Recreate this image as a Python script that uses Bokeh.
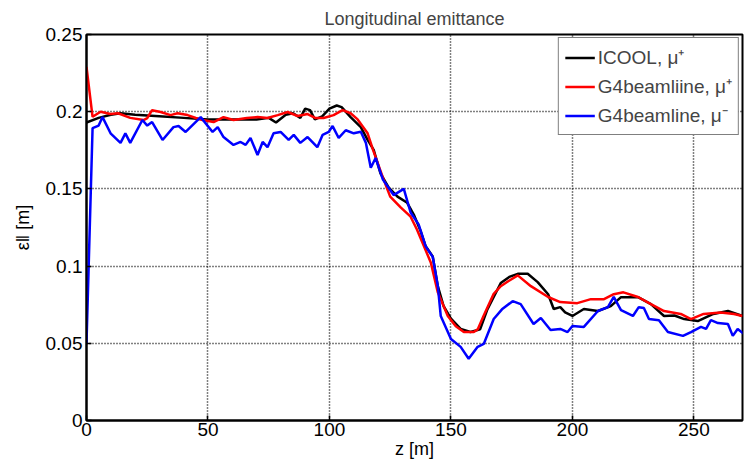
from bokeh.plotting import figure
from bokeh.models import FixedTicker, CustomJSTickFormatter, Range1d, Legend, LegendItem
from bokeh.embed import file_html
from bokeh.resources import INLINE

# ---- data ----
icool_z = [0, 5, 10, 14, 20,
           30, 40, 50, 60, 70,
           75, 78, 82, 85, 88,
           90, 92, 94, 97, 100,
           103, 105, 108.7, 112.9, 115.7,
           118.2, 121, 124.4, 128, 132,
           134.7, 137.6, 139.6, 142.5, 144.6,
           147, 150, 154, 158, 162,
           165, 167.6, 170.5, 174, 177.5,
           181.6, 185.7, 190, 192.3, 195,
           197, 200, 204.7, 210.5, 215.8,
           220, 227, 232.3, 237.7, 242,
           246, 251.6, 258, 264, 270]
icool_e = [0.193, 0.196, 0.198, 0.199, 0.198,
           0.197, 0.196, 0.195, 0.195, 0.195,
           0.196, 0.193, 0.198, 0.199, 0.196,
           0.202, 0.201, 0.195, 0.197, 0.202,
           0.204, 0.203, 0.1965, 0.190, 0.1817,
           0.1753, 0.160, 0.1508, 0.145, 0.141,
           0.1334, 0.1224, 0.1128, 0.1063, 0.087,
           0.074, 0.066, 0.0593, 0.0573, 0.059,
           0.072, 0.080, 0.089, 0.093, 0.095,
           0.095, 0.0896, 0.0818, 0.0722, 0.0734,
           0.070, 0.0677, 0.0722, 0.0709, 0.0741,
           0.0799, 0.0799, 0.0754, 0.0677, 0.068,
           0.0657, 0.0644, 0.069, 0.0709, 0.0677]

g4p_z = [0, 2.5, 5.8, 9.9, 13,
         18, 23.5, 25, 27, 30.5,
         34.6, 37.5, 41.6, 45, 47.8,
         52.3, 56.4, 60.5, 66, 70.4,
         74.5, 78.7, 82.8, 86.9, 91,
         94.3, 97.6, 101.7, 105.4, 108.7,
         111.6, 115.7, 118, 122.3, 125,
         129.3, 133.4, 136, 138.9, 141.7,
         144.6, 148.7, 152, 155.3, 159.4,
         161, 163.5, 167.6, 170.5, 173.4,
         177.5, 182.9, 190, 195, 202,
         207.6, 213, 217, 221, 227,
         232.3, 237.7, 244.6, 248.8, 254,
         261, 266.5, 270]
g4p_e = [0.229, 0.1967, 0.200, 0.1985, 0.199,
         0.196, 0.1946, 0.1959, 0.201, 0.1998,
         0.1978, 0.199, 0.1978, 0.1959, 0.1946,
         0.1933, 0.1965, 0.1946, 0.1959, 0.1965,
         0.1959, 0.1978, 0.1998, 0.1972, 0.1985,
         0.1959, 0.1959, 0.1978, 0.201, 0.199,
         0.1950, 0.186, 0.175, 0.156, 0.145,
         0.138, 0.132, 0.1237, 0.1128, 0.1024,
         0.083, 0.0677, 0.061, 0.0573, 0.0573,
         0.059, 0.068, 0.082, 0.087, 0.090,
         0.094, 0.087, 0.080, 0.0767, 0.076,
         0.0786, 0.0786, 0.0818, 0.083, 0.080,
         0.0754, 0.0709, 0.069, 0.0657, 0.069,
         0.070, 0.069, 0.0677]

g4m_z = [0, 2.5, 5, 6.6, 9.9,
         14, 16, 18, 23, 25,
         27, 31.3, 35.8, 37.9, 40.8,
         47, 51.9, 54, 56.4, 60.5,
         63.4, 65.5, 67.5, 70.4, 72.5,
         74.5, 77, 79.9, 83.2, 85.3,
         88, 91, 95, 97.2, 99.7,
         101.3, 103.8, 106.7, 110, 112.9,
         115, 117, 119, 122, 126.4,
         130.6, 133.4, 136.7, 139.6, 142.5,
         144.6, 145.8, 150, 154, 157.3,
         161, 163.5, 167.6, 171, 175.4,
         178.7, 184, 187, 191, 195,
         198, 200, 204.7, 210.5, 214.6,
         217, 220, 224.9, 227.3, 229.4,
         231.5, 235.6, 239.3, 245.5, 248.8,
         252.9, 255, 257, 259.9, 264,
         266, 268, 270.6]
g4m_e = [0.05, 0.1894, 0.191, 0.1965, 0.186,
         0.1798, 0.186, 0.1798, 0.1946, 0.191,
         0.1933, 0.1817, 0.190, 0.1907, 0.1869,
         0.1965, 0.1869, 0.190, 0.1836, 0.1785,
         0.1804, 0.1785, 0.183, 0.172, 0.1804,
         0.177, 0.186, 0.1869, 0.1817, 0.185,
         0.1798, 0.1836, 0.177, 0.185, 0.1869,
         0.1907, 0.183, 0.188, 0.186, 0.187,
         0.1798, 0.1637, 0.170, 0.156, 0.146,
         0.150, 0.1347, 0.127, 0.1128, 0.106,
         0.087, 0.0677, 0.0528, 0.0477, 0.040,
         0.0477, 0.0496, 0.0657, 0.072, 0.0773,
         0.0754, 0.0625, 0.0664, 0.0586, 0.0593,
         0.0573, 0.0612, 0.0606, 0.0709, 0.0734,
         0.080, 0.0715, 0.0677, 0.0734, 0.0728,
         0.0657, 0.065, 0.0573, 0.0548, 0.0573,
         0.0606, 0.0593, 0.065, 0.0631, 0.0625,
         0.0548, 0.0593, 0.056]

x_ticks = [0, 50, 100, 150, 200, 250]
y_ticks = [0, 0.05, 0.1, 0.15, 0.2, 0.25]
labels = ["ICOOL, \u03bc\u207a", "G4beamliine, \u03bc\u207a", "G4beamline, \u03bc\u207b"]
colors = ["#000000", "#ff0000", "#0000ff"]

FONT = "Liberation Sans"

p = figure(width=745, height=461, output_backend="svg", toolbar_location=None,
           x_range=Range1d(0, 270), y_range=Range1d(0, 0.25),
           title="Longitudinal emittance",
           min_border_left=86, min_border_right=3, min_border_top=34, min_border_bottom=39)
p.title.align = "center"
p.title.text_font = FONT
p.title.text_font_size = "18px"
p.title.text_font_style = "normal"
p.title.offset = 0
p.title.standoff = 12

r1 = p.line(icool_z, icool_e, color=colors[0], line_width=2.5)
r2 = p.line(g4p_z, g4p_e, color=colors[1], line_width=2.5)
r3 = p.line(g4m_z, g4m_e, color=colors[2], line_width=2.5)

for ax in (p.xaxis[0], p.yaxis[0]):
    ax.axis_line_color = "black"
    ax.axis_line_width = 2
    ax.major_tick_in = 5
    ax.major_tick_out = 0
    ax.minor_tick_in = 0
    ax.minor_tick_out = 0
    ax.major_tick_line_width = 1.5
    ax.major_label_text_font = FONT
    ax.major_label_text_font_size = "19px"
    ax.major_label_text_color = "black"
    ax.axis_label_text_font = FONT
    ax.axis_label_text_font_size = "18px"
    ax.axis_label_text_font_style = "normal"
    ax.axis_label_text_color = "black"

p.xaxis.ticker = FixedTicker(ticks=x_ticks)
p.yaxis.ticker = FixedTicker(ticks=y_ticks)
p.yaxis.formatter = CustomJSTickFormatter(
    code="var s = tick.toFixed(2).replace(/0+$/, '').replace(/\\.$/, ''); return s;")
p.xaxis.axis_label = "z [m]"
p.yaxis.axis_label = "\u03b5\u2016 [m]"
p.xaxis.major_label_standoff = 2
p.xaxis.axis_label_standoff = 0
p.yaxis.major_label_standoff = 4
p.yaxis.axis_label_standoff = 10

p.xgrid.grid_line_color = "black"
p.ygrid.grid_line_color = "black"
p.xgrid.grid_line_dash = "1 2"
p.ygrid.grid_line_dash = "1 2"
p.xgrid.grid_line_width = 1.5
p.ygrid.grid_line_width = 1.5

p.outline_line_color = "black"
p.outline_line_width = 2
p.outline_line_alpha = 1

legend = Legend(items=[LegendItem(label=labels[0], renderers=[r1]),
                       LegendItem(label=labels[1], renderers=[r2]),
                       LegendItem(label=labels[2], renderers=[r3])],
                location="top_right")
legend.label_text_font = FONT
legend.label_text_font_size = "19px"
legend.glyph_width = 30
legend.glyph_height = 19
legend.label_height = 19
legend.spacing = 3
legend.padding = 6
legend.margin = 3
legend.label_standoff = 3
legend.border_line_color = "black"
legend.border_line_width = 1.5
legend.background_fill_alpha = 1
p.add_layout(legend)

open("out.html", "w").write(file_html(p, INLINE))
